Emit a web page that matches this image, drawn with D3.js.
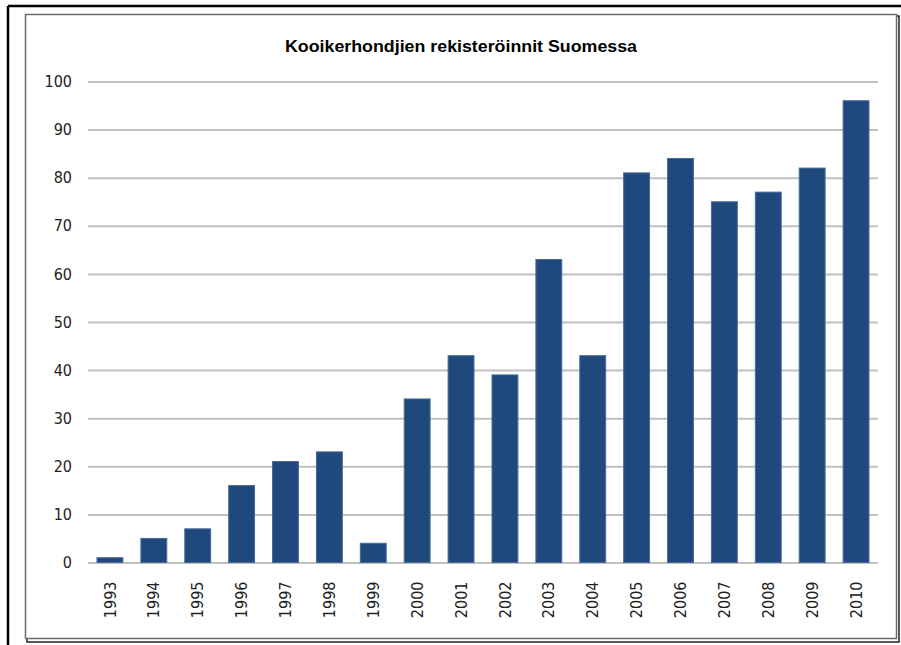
<!DOCTYPE html>
<html>
<head>
<meta charset="utf-8">
<script src="https://cdn.jsdelivr.net/npm/d3@7"></script>
<style>
  body { margin: 0; background: #fff; }
  svg { display: block; }
</style>
</head>
<body>
<svg id="chart" width="901" height="645"></svg>
<script>
// data
var years = ["1993","1994","1995","1996","1997","1998","1999","2000","2001",
             "2002","2003","2004","2005","2006","2007","2008","2009","2010"];
var registrations = [1, 5, 7, 16, 21, 23, 4, 34, 43, 39, 63, 43, 81, 84, 75, 77, 82, 96];
var yTicks = [0, 10, 20, 30, 40, 50, 60, 70, 80, 90, 100];
var title = "Kooikerhondjien rekisteröinnit Suomessa";

var svg = d3.select('#chart');

// outer frame (only top and left are visible)
svg.append('line').attr('x1', 8).attr('y1', 6).attr('x2', 901).attr('y2', 6)
    .attr('stroke', '#000').attr('stroke-width', 2.5);
svg.append('line').attr('x1', 8).attr('y1', 6).attr('x2', 8).attr('y2', 645)
    .attr('stroke', '#000').attr('stroke-width', 2.5);

// chart area border with shadow
svg.append('rect').attr('x', 27).attr('y', 16).attr('width', 872).attr('height', 626)
    .attr('fill', 'none').attr('stroke', '#222').attr('stroke-width', 1.5);
svg.append('rect').attr('x', 25.5).attr('y', 14.5).attr('width', 871).attr('height', 624)
    .attr('fill', '#fff').attr('stroke', '#6b6b6b').attr('stroke-width', 1.5);

var x = d3.scaleBand().domain(years).range([88, 878]).paddingInner(0.41).paddingOuter(0.205);
var y = d3.scaleLinear().domain([0, 100]).range([562.5, 81.5]);

svg.append('text')
    .attr('x', 461).attr('y', 52)
    .attr('text-anchor', 'middle')
    .attr('font-family', 'Liberation Sans, Arial, sans-serif')
    .attr('font-weight', 'bold')
    .attr('font-size', 17)
    .attr('textLength', 352)
    .attr('lengthAdjust', 'spacingAndGlyphs')
    .attr('fill', '#000')
    .text(title);

// gridlines + y labels
var yAxis = svg.append('g').attr('transform', 'translate(88,0)')
    .call(d3.axisLeft(y).tickValues(yTicks).tickSize(-790).tickPadding(16));
yAxis.select('.domain').remove();
yAxis.selectAll('.tick line').attr('stroke', '#c0c0c0').attr('stroke-width', 2);
yAxis.selectAll('.tick text')
    .attr('font-family', 'DejaVu Sans Condensed, DejaVu Sans, sans-serif')
    .attr('font-stretch', 'condensed')
    .attr('font-size', 16)
    .attr('fill', '#222');

// bars
svg.selectAll('rect.bar')
    .data(registrations)
  .enter().append('rect')
    .attr('class', 'bar')
    .attr('x', function(d, i) { return x(years[i]); })
    .attr('y', function(d) { return y(d); })
    .attr('width', x.bandwidth())
    .attr('height', function(d) { return y(0) - y(d); })
    .attr('fill', '#1f497d')
    .attr('stroke', '#4a6b98')
    .attr('stroke-width', 1);

// x labels, rotated
var xAxis = svg.append('g').attr('transform', 'translate(0,' + y(0) + ')')
    .call(d3.axisBottom(x).tickSize(0).tickPadding(0));
xAxis.select('.domain').remove();
xAxis.selectAll('.tick text')
    .attr('font-family', 'DejaVu Sans Condensed, DejaVu Sans, sans-serif')
    .attr('font-stretch', 'condensed')
    .attr('font-size', 16)
    .attr('fill', '#222')
    .attr('text-anchor', 'end')
    .attr('dy', '0.35em')
    .attr('y', 0)
    .attr('transform', 'translate(0,19) rotate(-90)');
</script>
</body>
</html>
